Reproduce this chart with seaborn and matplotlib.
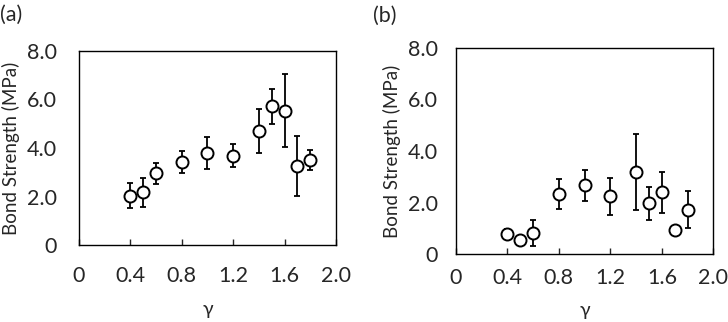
import numpy as np
import matplotlib
matplotlib.use("Agg")
import matplotlib.pyplot as plt
import seaborn as sns

# panel (a)
gamma_a = [0.4, 0.5, 0.6, 0.8, 1.0, 1.2, 1.4, 1.5, 1.6, 1.7, 1.8]
bond_a = [2.03, 2.17, 2.95, 3.43, 3.80, 3.68, 4.70, 5.71, 5.54, 3.26, 3.50]
err_a = [0.52, 0.60, 0.44, 0.46, 0.65, 0.47, 0.90, 0.72, 1.52, 1.25, 0.42]

# panel (b)
gamma_b = [0.4, 0.5, 0.6, 0.8, 1.0, 1.2, 1.4, 1.5, 1.6, 1.7, 1.8]
bond_b = [0.78, 0.56, 0.82, 2.32, 2.67, 2.25, 3.18, 1.97, 2.40, 0.93, 1.72]
err_b = [0.20, 0.0, 0.50, 0.58, 0.60, 0.72, 1.47, 0.64, 0.80, 0.0, 0.71]

xticks = [0, 0.4, 0.8, 1.2, 1.6, 2.0]
xticklabels = ["0", "0.4", "0.8", "1.2", "1.6", "2.0"]
yticks = [0, 2, 4, 6, 8]
yticklabels = ["0", "2.0", "4.0", "6.0", "8.0"]

sns.set_style("white")
plt.rcParams["font.family"] = ["Lato", "DejaVu Sans"]

fig = plt.figure(figsize=(7.28, 3.22), dpi=100)
ax_a = fig.add_axes([0.1085, 0.239, 0.353, 0.603])
ax_b = fig.add_axes([0.626, 0.211, 0.354, 0.640])


def draw_panel(ax, x, y, e, xpad, ypad):
    ax.errorbar(x, y, yerr=e, fmt="none", ecolor="black", elinewidth=1.3,
                capsize=2.5, capthick=1.3, zorder=2)
    sns.scatterplot(x=x, y=y, ax=ax, marker="o", s=75, facecolor="white",
                    edgecolor="black", linewidth=1.4, zorder=3)
    ax.set_xlim(0, 2.0)
    ax.set_ylim(0, 8.0)
    ax.set_xticks(xticks)
    ax.set_xticklabels(xticklabels)
    ax.set_yticks(yticks)
    ax.set_yticklabels(yticklabels)
    ax.tick_params(axis="x", direction="in", length=4, width=1, pad=xpad,
                   labelsize=15.5, bottom=True)
    ax.tick_params(axis="y", length=0, pad=ypad, labelsize=15.5)
    for s in ax.spines.values():
        s.set_color("black")
        s.set_linewidth(1.0)
    ax.set_ylabel("Bond Strength (MPa)", fontsize=13.5, labelpad=5)


draw_panel(ax_a, gamma_a, bond_a, err_a, xpad=15, ypad=16)
draw_panel(ax_b, gamma_b, bond_b, err_b, xpad=10, ypad=13)

ax_a.set_xlabel("γ", fontsize=14, labelpad=11)
ax_b.set_xlabel("γ", fontsize=14, labelpad=10)

fig.text(0.0, 0.955, "(a)", fontsize=15.5, ha="left", va="center")
fig.text(0.512, 0.950, "(b)", fontsize=15.5, ha="left", va="center")

fig.savefig("out.png", dpi=100)
